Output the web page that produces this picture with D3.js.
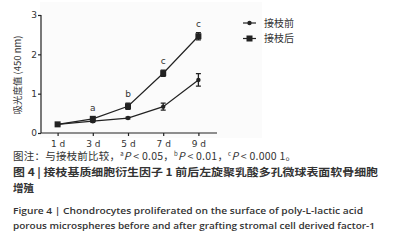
<!DOCTYPE html>
<html>
<head>
<meta charset="utf-8">
<script src="https://cdn.jsdelivr.net/npm/d3@7"></script>
<style>
  body { margin: 0; background: #fff; }
  svg { display: block; }
</style>
</head>
<body>
<div id="chart"></div>
<script>
const days = [1, 3, 5, 7, 9]
const dayLabels = ["1 d", "3 d", "5 d", "7 d", "9 d"]
const beforeMean = [0.22, 0.30, 0.38, 0.67, 1.35]
const beforeErr = [0.02, 0.03, 0.02, 0.09, 0.16]
const afterMean = [0.22, 0.36, 0.68, 1.52, 2.46]
const afterErr = [0.02, 0.04, 0.08, 0.08, 0.09]
const sigLabels = ["", "a", "b", "c", "c"]
const yTicks = [0, 1, 2, 3]
const seriesNames = ["接枝前", "接枝后"]

const width = 394
const height = 246
const ink = "#222"

const svg = d3.select("#chart")
  .append("svg")
  .attr("width", width)
  .attr("height", height)

// faint plot background
svg.append("rect")
  .attr("x", 40).attr("y", 2)
  .attr("width", 222).attr("height", 136)
  .attr("fill", "#fbfbfb")

const x = d3.scaleLinear().domain([0, 10]).range([40, 216])
const y = d3.scaleLinear().domain([0, 3]).range([133, 15])

// axes
const yAxis = svg.append("g")
  .attr("transform", "translate(41,0)")
  .call(d3.axisLeft(y).tickValues(yTicks).tickSize(3).tickPadding(1).tickFormat(d3.format("d")))
yAxis.select(".domain").attr("d", `M0,${y(3)}V${y(0)}`)

const xAxis = svg.append("g")
  .attr("transform", `translate(0,${y(0)})`)
  .call(d3.axisBottom(x).tickValues(days).tickSize(3).tickPadding(5)
    .tickFormat((d, i) => dayLabels[i]))
xAxis.select(".domain").attr("d", `M41,0H217`)

svg.selectAll(".domain, .tick line").attr("stroke", ink).attr("stroke-width", 1.2)
svg.selectAll(".tick text")
  .attr("fill", "#333")
  .attr("font-family", "DejaVu Sans")
  .attr("font-size", 9)

// y label
svg.append("text")
  .attr("transform", `translate(21,${y(1.5) + 1}) rotate(-90)`)
  .attr("text-anchor", "middle")
  .attr("font-family", "Noto Sans CJK SC")
  .attr("font-size", 9.5)
  .attr("fill", "#333")
  .text("吸光度值 (450 nm)")

const line = d3.line()
  .x((d, i) => x(days[i]))
  .y(d => y(d))

function drawSeries(mean, err, marker) {
  svg.append("path")
    .datum(mean)
    .attr("d", line)
    .attr("fill", "none")
    .attr("stroke", ink)
    .attr("stroke-width", 1.2)

  const g = svg.append("g")
  mean.forEach((m, i) => {
    const cx = x(days[i])
    const top = y(m + err[i]), bot = y(m - err[i])
    g.append("path")
      .attr("d", `M${cx},${top}V${bot}M${cx - 2.5},${top}H${cx + 2.5}M${cx - 2.5},${bot}H${cx + 2.5}`)
      .attr("stroke", ink)
      .attr("stroke-width", 1.3)
    if (marker === "circle") {
      g.append("circle").attr("cx", cx).attr("cy", y(m)).attr("r", 2.2).attr("fill", ink)
    } else {
      g.append("rect").attr("x", cx - 3).attr("y", y(m) - 3)
        .attr("width", 6).attr("height", 6).attr("fill", ink)
    }
  })
}

drawSeries(beforeMean, beforeErr, "circle")
drawSeries(afterMean, afterErr, "square")

// significance letters
sigLabels.forEach((s, i) => {
  if (!s) return
  svg.append("text")
    .attr("x", x(days[i]))
    .attr("y", y(afterMean[i] + afterErr[i]) - 6)
    .attr("text-anchor", "middle")
    .attr("font-family", "DejaVu Sans")
    .attr("font-size", 9)
    .attr("fill", "#333")
    .text(s)
})

// legend
seriesNames.forEach((name, i) => {
  const ly = 23 + i * 15.5
  svg.append("line")
    .attr("x1", 243).attr("x2", 256).attr("y1", ly).attr("y2", ly)
    .attr("stroke", ink).attr("stroke-width", 1.2)
  if (i === 0) {
    svg.append("circle").attr("cx", 249.5).attr("cy", ly).attr("r", 2.2).attr("fill", ink)
  } else {
    svg.append("rect").attr("x", 246.5).attr("y", ly - 3).attr("width", 6).attr("height", 6).attr("fill", ink)
  }
  svg.append("text")
    .attr("x", 264).attr("y", ly + 3.5)
    .attr("font-family", "Noto Sans CJK SC")
    .attr("font-size", 10)
    .attr("fill", "#333")
    .text(name)
})

// caption
const cap = svg.append("g").attr("fill", "#333")
const note = cap.append("text")
  .attr("x", 13).attr("y", 160)
  .attr("font-family", "Noto Sans CJK SC")
  .attr("font-size", 10.5)
note.append("tspan").text("图注：与接枝前比较，")
note.append("tspan").attr("font-size", 6).attr("dy", -4).text("a")
note.append("tspan").attr("dy", 4).attr("font-style", "italic").text("P")
note.append("tspan").text(" < 0.05，")
note.append("tspan").attr("font-size", 6).attr("dy", -4).text("b")
note.append("tspan").attr("dy", 4).attr("font-style", "italic").text("P")
note.append("tspan").text(" < 0.01，")
note.append("tspan").attr("font-size", 6).attr("dy", -4).text("c")
note.append("tspan").attr("dy", 4).attr("font-style", "italic").text("P")
note.append("tspan").text(" < 0.000 1。")
note.attr("textLength", 283).attr("lengthAdjust", "spacing")

cap.append("text")
  .attr("x", 13).attr("y", 176)
  .attr("font-family", "Noto Sans CJK SC")
  .attr("font-size", 10.5)
  .attr("font-weight", "bold")
  .attr("textLength", 365).attr("lengthAdjust", "spacingAndGlyphs")
  .text("图 4 | 接枝基质细胞衍生因子 1 前后左旋聚乳酸多孔微球表面软骨细胞")
cap.append("text")
  .attr("x", 13).attr("y", 192)
  .attr("font-family", "Noto Sans CJK SC")
  .attr("font-size", 10.5)
  .attr("font-weight", "bold")
  .text("增殖")

cap.append("text")
  .attr("x", 13).attr("y", 214)
  .attr("font-family", "Open Sans")
  .attr("font-size", 9.5)
  .attr("font-weight", 600)
  .attr("textLength", 350).attr("lengthAdjust", "spacingAndGlyphs")
  .text("Figure 4 | Chondrocytes proliferated on the surface of poly-L-lactic acid")
cap.append("text")
  .attr("x", 13).attr("y", 229)
  .attr("font-family", "Open Sans")
  .attr("font-size", 9.5)
  .attr("font-weight", 600)
  .attr("textLength", 362).attr("lengthAdjust", "spacingAndGlyphs")
  .text("porous microspheres before and after grafting stromal cell derived factor-1")
</script>
</body>
</html>
